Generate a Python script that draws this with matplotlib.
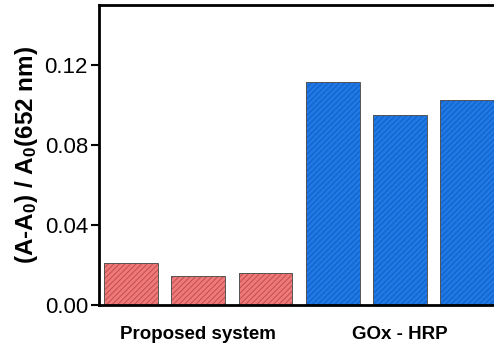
import numpy as np
import matplotlib.pyplot as plt

plt.rcParams['font.family'] = ['Liberation Sans', 'DejaVu Sans']
plt.rcParams['mathtext.fontset'] = 'custom'
plt.rcParams['mathtext.bf'] = 'Liberation Sans:bold'
plt.rcParams['mathtext.rm'] = 'Liberation Sans:bold'
plt.rcParams['mathtext.default'] = 'bf'
plt.rcParams['hatch.linewidth'] = 0.6

# Response of each repeat, grouped by detection system
groups = ['Proposed system', 'GOx - HRP']
proposed = [0.0208, 0.0146, 0.0160]
gox_hrp = [0.1117, 0.0951, 0.1026]

values = proposed + gox_hrp
x = np.arange(len(values))
fills = ['#ef7878'] * len(proposed) + ['#1f78e4'] * len(gox_hrp)
hatches = ['#b84a4a'] * len(proposed) + ['#0e5cc0'] * len(gox_hrp)

fig = plt.figure(figsize=(4.94, 3.49), dpi=100)
ax = fig.add_axes([99 / 494, 44 / 349, 402 / 494, 300 / 349])

for xi, v, fc, hc in zip(x, values, fills, hatches):
    ax.bar(xi, v, width=0.8, color=fc, edgecolor=hc, hatch='//////', lw=0)
    ax.bar(xi, v, width=0.8, fill=False, edgecolor='#555555', lw=0.7)

ax.set_xlim(-0.475, 5.5)
ax.set_ylim(0, 0.15)
ax.set_yticks([0.0, 0.04, 0.08, 0.12])
ax.set_yticklabels(['0.00', '0.04', '0.08', '0.12'])
ax.set_xticks([1, 4])
ax.set_xticklabels(groups, fontweight='bold', fontsize=13.5)
ax.tick_params(axis='x', length=0, pad=15)
ax.tick_params(axis='y', labelsize=16, length=6, width=1.5, pad=2)
for s in ax.spines.values():
    s.set_linewidth(2)

ax.set_ylabel('(A-A$_0$) / A$_0$(652 nm)', fontsize=17.5, fontweight='bold',
              labelpad=3)

fig.savefig('out.png', dpi=100)
